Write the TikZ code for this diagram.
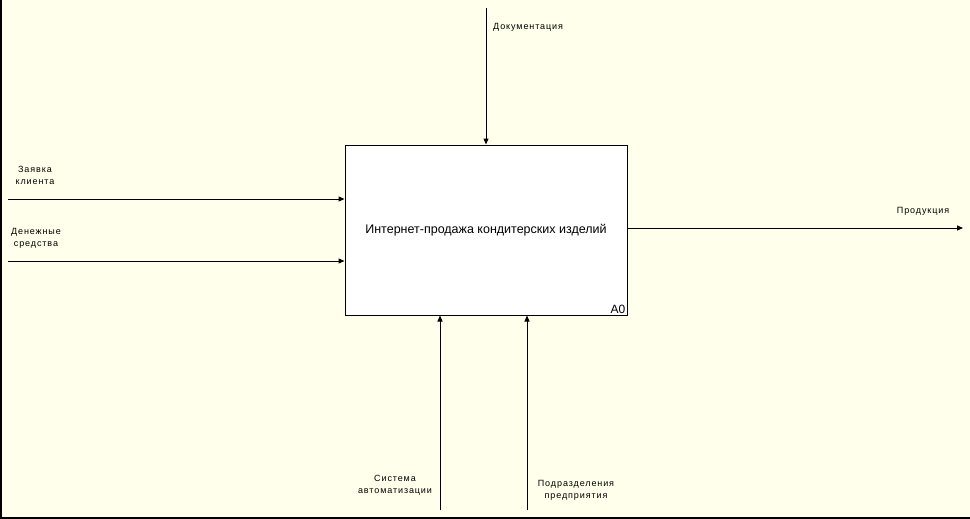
\documentclass[tikz,border=0pt]{standalone}
\usepackage{fontspec}
\setmainfont{Liberation Sans}
\newfontfamily\lblfont[LetterSpace=10]{Liberation Sans}
\usetikzlibrary{arrows.meta}
\definecolor{bgc}{RGB}{255,255,235}
\begin{document}
\begin{tikzpicture}[x=1pt,y=-1pt,
  flow/.style={line width=1pt,-{Triangle[length=6pt,width=5pt]}},
  lbl/.style={font=\lblfont\fontsize{9}{12}\selectfont,align=center,inner sep=0pt},
  func/.style={draw,line width=1pt,fill=white,minimum width=282pt,minimum height=170pt,inner sep=0pt,font=\fontsize{12.5}{14}\selectfont}]
\fill[bgc] (0,0) rectangle (970,519);
\useasboundingbox (0,0) rectangle (970,519);
\draw[line width=2pt] (1,0) -- (1,518) -- (970,518);
\node[func] (A) at (486,230) {Интернет-продажа кондитерских изделий};
\node[font=\fontsize{12}{13}\selectfont,anchor=south east,inner sep=2pt] (A0) at (A.south east) {A0};
% coordinates
\coordinate (d0) at (486,8);
\coordinate (z0) at (8,199);
\coordinate (m0) at (8,261);
\coordinate (p1) at (963,228);
\coordinate (s0) at (440,510);
\coordinate (u0) at (527,510);
\draw[flow] (d0) -- (d0 |- A.north);
\draw[flow] (z0) -- (z0 -| A.west);
\draw[flow] (m0) -- (m0 -| A.west);
\draw[flow] (p1 -| A.east) -- (p1);
\draw[flow] (s0) -- (s0 |- A.south);
\draw[flow] (u0) -- (u0 |- A.south);
\node[lbl,anchor=west] (dl) at (493,27) {Документация};
\node[lbl] (zl) at (35,175) {Заявка\\клиента};
\node[lbl] (ml) at (36,238) {Денежные\\средства};
\node[lbl] (pl) at (923,211) {Продукция};
\node[lbl] (sl) at (395,485) {Система\\автоматизации};
\node[lbl] (ul) at (576,490) {Подразделения\\предприятия};
\end{tikzpicture}
\end{document}
